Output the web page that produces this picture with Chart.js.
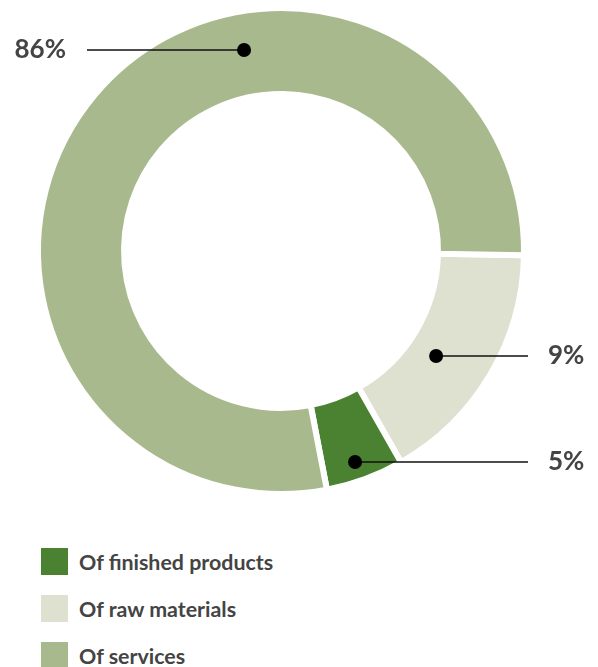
<!DOCTYPE html>
<html>
<head>
<meta charset="utf-8">
<script src="https://cdn.jsdelivr.net/npm/chart.js@4/dist/chart.umd.min.js"></script>
<style>
  html, body { margin: 0; padding: 0; background: #fff; }
  body { width: 598px; height: 667px; position: relative; overflow: hidden; font-family: Lato, sans-serif; }
  #wrap { position: absolute; left: 0; top: 0; width: 598px; height: 502px; }
  #legend { position: absolute; left: 41px; top: 548px; }
  .item { display: flex; align-items: center; height: 27px; margin-bottom: 20px; }
  .box { width: 27px; height: 27px; margin-right: 11px; flex: none; }
  .lbl { font-weight: 700; font-size: 21.4px; color: #444; white-space: nowrap; }
</style>
</head>
<body>
<div id="wrap"><canvas id="donut"></canvas></div>
<div id="legend"></div>
<script>
// segments clockwise from 3 o'clock
const categories = ['Of raw materials', 'Of finished products', 'Of services'];
const shares = [16.5, 5.2, 78.3];           // arc sizes as drawn
const shareLabels = ['9%', '5%', '86%'];      // printed values
const colors = ['#dee1d0', '#4a8232', '#a9b98e'];
const legendOrder = [1, 0, 2];

// callout placement: angle (deg, clockwise from 3 o'clock), depth in ring, side
const callouts = [
    { angle: 34, depth: 0.35, side: 'right' },
    { angle: 70.7, depth: 0.78, side: 'right' },
    { angle: 259.6, depth: 0.555, side: 'left' }
];

const calloutPlugin = {
    id: 'callouts',
    afterDatasetsDraw(chart) {
        const ctx = chart.ctx;
        const arcs = chart.getDatasetMeta(0).data;
        ctx.save();
        arcs.forEach((arc, i) => {
            const c = callouts[i];
            const a = c.angle * Math.PI / 180;
            const r = arc.innerRadius + (arc.outerRadius - arc.innerRadius) * c.depth;
            const px = arc.x + Math.cos(a) * r;
            const py = Math.round(arc.y + Math.sin(a) * r);
            const endX = c.side === 'left' ? 87 : 528;

            ctx.strokeStyle = '#111';
            ctx.lineWidth = 1.5;
            ctx.beginPath();
            ctx.moveTo(px, py);
            ctx.lineTo(endX, py);
            ctx.stroke();

            ctx.fillStyle = '#000';
            ctx.beginPath();
            ctx.arc(px, py, 7, 0, Math.PI * 2);
            ctx.fill();

            ctx.fillStyle = '#444';
            ctx.font = 'bold 26px Lato';
            ctx.textBaseline = 'middle';
            ctx.textAlign = c.side === 'left' ? 'right' : 'left';
            ctx.fillText(shareLabels[i], c.side === 'left' ? 66 : 548, py);
        });
        ctx.restore();
    }
};

const ctx = document.getElementById('donut').getContext('2d');
new Chart(ctx, {
    type: 'doughnut',
    data: {
        labels: categories,
        datasets: [{
            data: shares,
            backgroundColor: colors,
            borderColor: '#ffffff',
            borderWidth: 6
        }]
    },
    options: {
        responsive: true,
        maintainAspectRatio: false,
        animation: false,
        rotation: 91,
        cutout: '64.6%',
        layout: { padding: { left: 35, right: 71, top: 5, bottom: 5 } },
        plugins: {
            legend: { display: false },
            tooltip: { enabled: false }
        }
    },
    plugins: [calloutPlugin]
});

// legend
const legend = document.getElementById('legend');
legendOrder.forEach(i => {
    const row = document.createElement('div');
    row.className = 'item';
    row.innerHTML = `<div class="box" style="background:${colors[i]}"></div><span class="lbl">${categories[i]}</span>`;
    legend.appendChild(row);
});
</script>
</body>
</html>
